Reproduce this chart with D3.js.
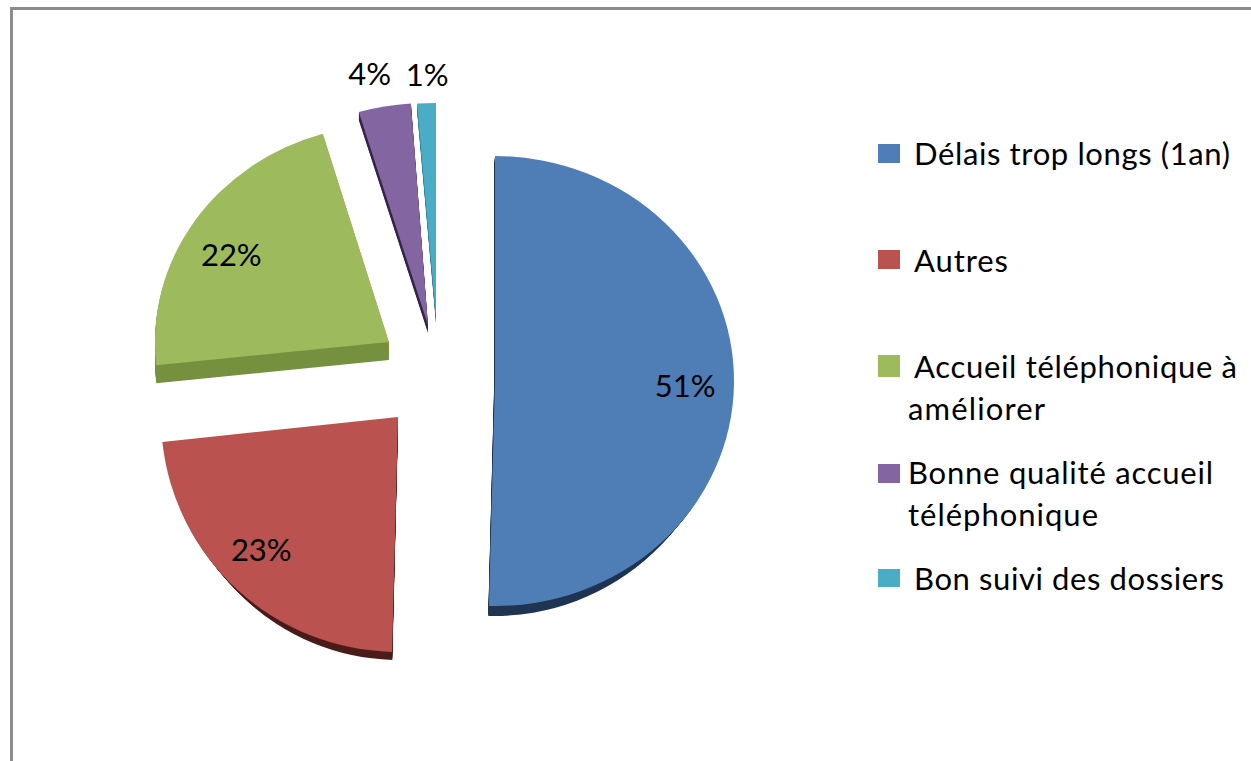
<!DOCTYPE html>
<html>
<head>
<meta charset="utf-8">
<script src="https://cdn.jsdelivr.net/npm/d3@7"></script>
<style>
  html, body { margin: 0; padding: 0; background: #fff; overflow: hidden; }
  text { font-family: Lato, "Open Sans", sans-serif; fill: #000; }
</style>
</head>
<body>
<div id="chart"></div>
<script>
var categories = ["Délais trop longs (1an)", "Autres", "Accueil téléphonique à améliorer", "Bonne qualité accueil téléphonique", "Bon suivi des dossiers"]
var sliceValues = [50.4, 22.9, 22.14, 3.45, 1.11]
var sliceLabels = ["51%", "23%", "22%", "4%", "1%"]
var faceColors = ["#4f7eb6", "#ba524f", "#9dbb5c", "#8265a1", "#4bacc6"]
var sideColors = ["#1f3552", "#4a1c1a", "#76913f", "#35264a", "#2f7f93"]

// legend text, broken in lines the way the reference breaks them
var legendLines = [
  [{"text": "Délais trop longs (1an)", "x": 914, "y": 165, "width": 316}],
  [{"text": "Autres", "x": 914, "y": 272, "width": 94}],
  [{"text": "Accueil téléphonique à", "x": 914, "y": 378, "width": 323},
   {"text": "améliorer", "x": 908, "y": 420, "width": 137}],
  [{"text": "Bonne qualité accueil", "x": 908, "y": 484, "width": 305},
   {"text": "téléphonique", "x": 908, "y": 526, "width": 190}],
  [{"text": "Bon suivi des dossiers", "x": 914, "y": 590, "width": 310}]
]
var legendSwatches = [[144, 19], [250, 19], [355, 22], [464, 19], [569, 18]]

// every slice is exploded and foreshortened on its own in the 3D view
// shift and shrink taper the side wall, nudge fine tunes the label
var sliceLayout = [
  {"cx": 495, "cy": 381, "rx": 239, "ry": 225, "depth": 10, "shift": -1, "shrink": 10, "label": 0.8, "nudge": [-1, 3]},
  {"cx": 398, "cy": 417, "rx": 237, "ry": 235, "depth": 8, "shift": 0, "shrink": 9, "label": 0.82, "nudge": [-5, -9]},
  {"cx": 389, "cy": 342, "rx": 234, "ry": 217, "depth": 18, "shift": 0, "shrink": 0, "label": 0.8, "nudge": [-2, 10]},
  {"cx": 428, "cy": 325, "rx": 245, "ry": 222, "depth": 8, "shift": 0, "shrink": 0, "label": 1.16, "nudge": [-8, 3]},
  {"cx": 436, "cy": 316, "rx": 272, "ry": 213, "depth": 7, "shift": 0, "shrink": 0, "label": 1.13, "nudge": [2, 0]}
]

var width = 1251
var height = 761
var fontSize = 31
var arcRadius = 100

var svg = d3.select("#chart").append("svg")
  .attr("width", width)
  .attr("height", height)
  .style("display", "block")

// frame, only the top and left edges are in the picture
svg.append("path")
  .attr("d", "M11.5," + height + "V8.5H" + width)
  .attr("fill", "none")
  .attr("stroke", "#8c8c8c")
  .attr("stroke-width", 3)

var pie = d3.pie().sort(null).value(function (d) { return d })
var arc = d3.arc().innerRadius(0).outerRadius(arcRadius)
var slices = pie(sliceValues)

var sliceGroups = svg.selectAll("g.slice")
  .data(slices)
  .enter().append("g")
  .attr("class", "slice")

sliceGroups.each(function (d, i) {
  var layout = sliceLayout[i]
  var g = d3.select(this)

  // side wall: the same wedge stacked downwards, tapering a little
  d3.range(layout.depth, 0, -1).forEach(function (offset) {
    var t = offset / layout.depth
    g.append("path")
      .attr("d", arc(d))
      .attr("transform", "translate(" + (layout.cx + layout.shift * t) + "," + (layout.cy + offset) + ") " +
        "scale(" + ((layout.rx - layout.shrink * t) / arcRadius) + "," + (layout.ry / arcRadius) + ")")
      .attr("fill", sideColors[i])
  })

  g.append("path")
    .attr("d", arc(d))
    .attr("transform", "translate(" + layout.cx + "," + layout.cy + ") " +
      "scale(" + (layout.rx / arcRadius) + "," + (layout.ry / arcRadius) + ")")
    .attr("fill", faceColors[i])

  var mid = (d.startAngle + d.endAngle) / 2
  g.append("text")
    .attr("x", layout.cx + Math.sin(mid) * layout.rx * layout.label + layout.nudge[0])
    .attr("y", layout.cy - Math.cos(mid) * layout.ry * layout.label + layout.nudge[1])
    .attr("dy", "0.35em")
    .attr("text-anchor", "middle")
    .attr("font-size", fontSize)
    .text(sliceLabels[i])
})

var legend = svg.append("g").attr("class", "legend")

categories.forEach(function (name, i) {
  legend.append("rect")
    .attr("x", 878)
    .attr("y", legendSwatches[i][0])
    .attr("width", 22)
    .attr("height", legendSwatches[i][1])
    .attr("fill", faceColors[i])

  legendLines[i].forEach(function (line) {
    legend.append("text")
      .attr("x", line.x)
      .attr("y", line.y)
      .attr("font-size", fontSize)
      .attr("textLength", line.width)
      .attr("lengthAdjust", "spacing")
      .text(line.text)
  })
})
</script>
</body>
</html>
